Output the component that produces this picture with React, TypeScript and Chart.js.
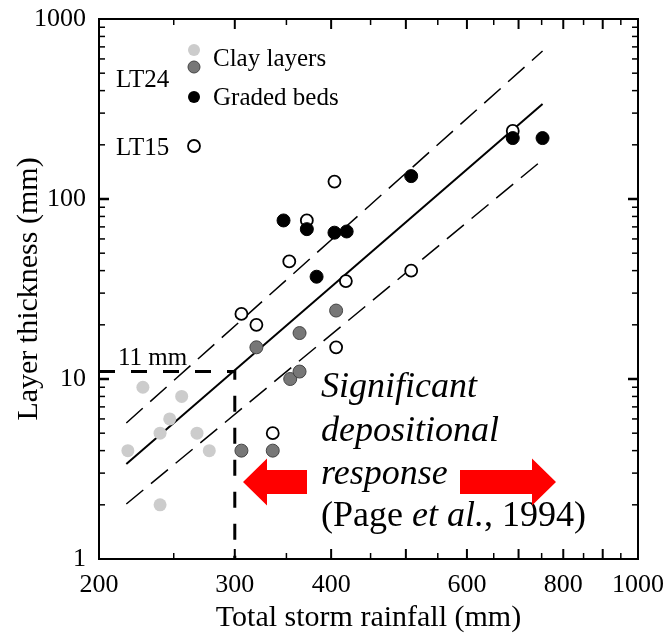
import React, { useEffect, useRef } from "react";
import { Chart, registerables } from "chart.js";

Chart.register(...registerables);

const SERIF = "'Liberation Serif', 'Times New Roman', serif";

// ---- data ----
const clayLightX = [228, 256, 247, 240, 268, 218, 278, 240];
const clayLightY = [9, 8, 6, 5, 5, 4, 4, 2];

const clayDarkX = [320, 364, 406, 354, 364, 306, 336];
const clayDarkY = [15, 18, 24, 10, 11, 4, 4];

const gradedX = [347, 372, 404, 419, 383, 508, 688, 752];
const gradedY = [76, 68, 65, 66, 37, 134, 218, 218];

const lt15X = [336, 306, 320, 406, 353, 418, 508, 372, 404, 688];
const lt15Y = [5, 23, 20, 15, 45, 35, 40, 76, 125, 239];

const fitX = [217, 752];
const fitY = [3.37, 337];
const upperY = [5.7, 664];
const lowerY = [2.02, 165];

const thresholdRain = 300;
const thresholdThickness = 11;

const xTickLabels = [200, 300, 400, 600, 800, 1000];
const yTickLabels = [1, 10, 100, 1000];
const xMajorMarks = [300, 400, 500, 600, 700, 800, 900];
const xMinorMarks = [250, 350, 450, 550, 650, 750, 850, 950];
const yMajorMarks = [10, 100];
const yMinorMarks = [2, 3, 4, 5, 6, 7, 8, 9, 20, 30, 40, 50, 60, 70, 80, 90, 200, 300, 400, 500, 600, 700, 800, 900];

const pts = (xs: number[], ys: number[]) => xs.map((x, i) => ({ x, y: ys[i] }));

const LIGHT = "#cccccc";
const DARK = "#777777";

const annotationPlugin = {
  id: "annotations",
  afterDraw(chart: any) {
    const { ctx, chartArea: a } = chart;
    const xs = chart.scales.x;
    const ys = chart.scales.y;
    ctx.save();
    // frame
    ctx.strokeStyle = "#000";
    ctx.lineWidth = 2;
    ctx.strokeRect(a.left, a.top, a.right - a.left, a.bottom - a.top);

    const line = (x1: number, y1: number, x2: number, y2: number, w: number) => {
      ctx.lineWidth = w;
      ctx.beginPath();
      ctx.moveTo(x1, y1);
      ctx.lineTo(x2, y2);
      ctx.stroke();
    };
    const xMark = (v: number, len: number, w: number) => {
      const px = xs.getPixelForValue(v);
      line(px, a.bottom, px, a.bottom - len, w);
      line(px, a.top, px, a.top + len, w);
    };
    const yMark = (v: number, len: number, w: number) => {
      const py = ys.getPixelForValue(v);
      line(a.left, py, a.left + len, py, w);
      line(a.right, py, a.right - len, py, w);
    };
    xMajorMarks.forEach((v) => xMark(v, 10, 2));
    xMinorMarks.forEach((v) => xMark(v, 6, 1.5));
    yMajorMarks.forEach((v) => yMark(v, 10, 2.5));
    yMinorMarks.forEach((v) => yMark(v, 6, 1.5));

    // legend
    const L = a.left, T = a.top;
    const dot = (x: number, y: number, fill: string, stroke: string | null, w = 1) => {
      ctx.beginPath();
      ctx.arc(x, y, 6, 0, Math.PI * 2);
      ctx.fillStyle = fill;
      ctx.fill();
      if (stroke) {
        ctx.lineWidth = w;
        ctx.strokeStyle = stroke;
        ctx.stroke();
      }
    };
    dot(L + 95, T + 31, LIGHT, null);
    dot(L + 95, T + 48, DARK, "#444", 1);
    dot(L + 95, T + 78, "#000", null);
    dot(L + 95, T + 127, "#fff", "#000", 1.8);

    ctx.fillStyle = "#000";
    ctx.textBaseline = "alphabetic";
    ctx.textAlign = "left";
    ctx.font = `25px ${SERIF}`;
    ctx.fillText("LT24", L + 17, T + 68);
    ctx.fillText("LT15", L + 17, T + 136);
    ctx.fillText("Clay layers", L + 114, T + 47);
    ctx.fillText("Graded beds", L + 114, T + 86);

    // 11 mm label
    ctx.font = `25px ${SERIF}`;
    ctx.fillText("11 mm", L + 19, T + 346);

    // big text
    const tx = L + 222;
    ctx.font = `italic 36px ${SERIF}`;
    ctx.fillText("Significant", tx, T + 378);
    ctx.fillText("depositional", tx, T + 422);
    ctx.fillText("response", tx, T + 465);
    let cx = tx;
    const by = T + 507;
    const seg = (s: string, italic: boolean) => {
      ctx.font = `${italic ? "italic " : ""}36px ${SERIF}`;
      ctx.fillText(s, cx, by);
      cx += ctx.measureText(s).width;
    };
    seg("(Page ", false);
    seg("et al.", true);
    seg(", 1994)", false);

    // arrows
    const arrow = (tipX: number, y: number, dir: number, headLen: number, shaftLen: number) => {
      const baseX = tipX - dir * headLen;
      const endX = baseX - dir * shaftLen;
      ctx.fillStyle = "#ff0000";
      ctx.beginPath();
      ctx.moveTo(tipX, y);
      ctx.lineTo(baseX, y - 23.5);
      ctx.lineTo(baseX, y - 12);
      ctx.lineTo(endX, y - 12);
      ctx.lineTo(endX, y + 12);
      ctx.lineTo(baseX, y + 12);
      ctx.lineTo(baseX, y + 23.5);
      ctx.closePath();
      ctx.fill();
    };
    arrow(L + 144, T + 463, -1, 24, 40);
    arrow(L + 457, T + 463, 1, 24, 72);

    ctx.restore();
  },
};

const zeroPad = (scale: any) => {
  scale.paddingTop = 0;
  scale.paddingBottom = 0;
  scale.paddingLeft = 0;
  scale.paddingRight = 0;
};

export default function App() {
  const ref = useRef<HTMLCanvasElement | null>(null);
  useEffect(() => {
    if (!ref.current) return;
    const chart = new Chart(ref.current, {
      type: "scatter",
      data: {
        datasets: [
          {
            label: "Graded beds",
            data: pts(gradedX, gradedY),
            backgroundColor: "#000",
            borderColor: "#000",
            pointRadius: 6.5,
            borderWidth: 1,
          },
          {
            label: "Clay layers LT24",
            data: pts(clayDarkX, clayDarkY),
            backgroundColor: DARK,
            borderColor: "#444",
            pointRadius: 6.5,
            borderWidth: 1,
          },
          {
            label: "Clay layers LT15",
            data: pts(clayLightX, clayLightY),
            backgroundColor: LIGHT,
            borderColor: LIGHT,
            pointRadius: 6.5,
            borderWidth: 0,
          },
          {
            label: "LT15",
            data: pts(lt15X, lt15Y),
            backgroundColor: "#fff",
            borderColor: "#000",
            pointRadius: 6,
            borderWidth: 1.8,
          },
          {
            label: "fit",
            data: pts(fitX, fitY),
            showLine: true,
            borderColor: "#000",
            borderWidth: 2,
            pointRadius: 0,
          },
          {
            label: "upper",
            data: pts(fitX, upperY),
            showLine: true,
            borderColor: "#000",
            borderWidth: 1.5,
            borderDash: [22, 10],
            pointRadius: 0,
          },
          {
            label: "lower",
            data: pts(fitX, lowerY),
            showLine: true,
            borderColor: "#000",
            borderWidth: 1.5,
            borderDash: [22, 10],
            pointRadius: 0,
          },
          {
            label: "threshold",
            data: [
              { x: 200, y: thresholdThickness },
              { x: thresholdRain, y: thresholdThickness },
              { x: thresholdRain, y: 1 },
            ],
            showLine: true,
            borderColor: "#000",
            borderWidth: 3,
            borderDash: [16, 16],
            pointRadius: 0,
          },
        ],
      },
      options: {
        animation: false,
        responsive: false,
        devicePixelRatio: 1,
        layout: { padding: { top: 19, right: 30, left: 0, bottom: 0 } },
        plugins: { legend: { display: false }, tooltip: { enabled: false } },
        scales: {
          x: {
            type: "logarithmic",
            position: "bottom",
            min: 200,
            max: 1000,
            afterBuildTicks: (scale: any) => {
              scale.ticks = xTickLabels.map((v) => ({ value: v }));
            },
            afterFit: (scale: any) => {
              scale.height = 74;
              zeroPad(scale);
            },
            grid: { display: false, drawTicks: false },
            border: { display: false },
            ticks: {
              autoSkip: false,
              maxRotation: 0,
              padding: 11,
              color: "#000",
              font: { family: SERIF, size: 26 },
              callback: (v: any) => String(v),
            },
            title: {
              display: true,
              text: "Total storm rainfall (mm)",
              color: "#000",
              font: { family: SERIF, size: 30, lineHeight: 1 },
              padding: { top: 0, bottom: 0 },
            },
          },
          y: {
            type: "logarithmic",
            position: "left",
            min: 1,
            max: 1000,
            afterBuildTicks: (scale: any) => {
              scale.ticks = yTickLabels.map((v) => ({ value: v }));
            },
            afterFit: (scale: any) => {
              scale.width = 99;
              zeroPad(scale);
            },
            grid: { display: false, drawTicks: false },
            border: { display: false },
            ticks: {
              autoSkip: false,
              padding: 13,
              color: "#000",
              font: { family: SERIF, size: 26 },
              callback: (v: any) => String(v),
            },
            title: {
              display: true,
              text: "Layer thickness (mm)",
              color: "#000",
              font: { family: SERIF, size: 30, lineHeight: 1.2 },
              padding: { top: 11, bottom: 0 },
            },
          },
        },
      },
      plugins: [annotationPlugin],
    });
    return () => chart.destroy();
  }, []);
  return (
    <div style={{ position: "fixed", left: 0, top: 0, width: 668, height: 633, background: "#fff" }}>
      <canvas ref={ref} width={668} height={633} style={{ width: 668, height: 633 }} />
    </div>
  );
}
